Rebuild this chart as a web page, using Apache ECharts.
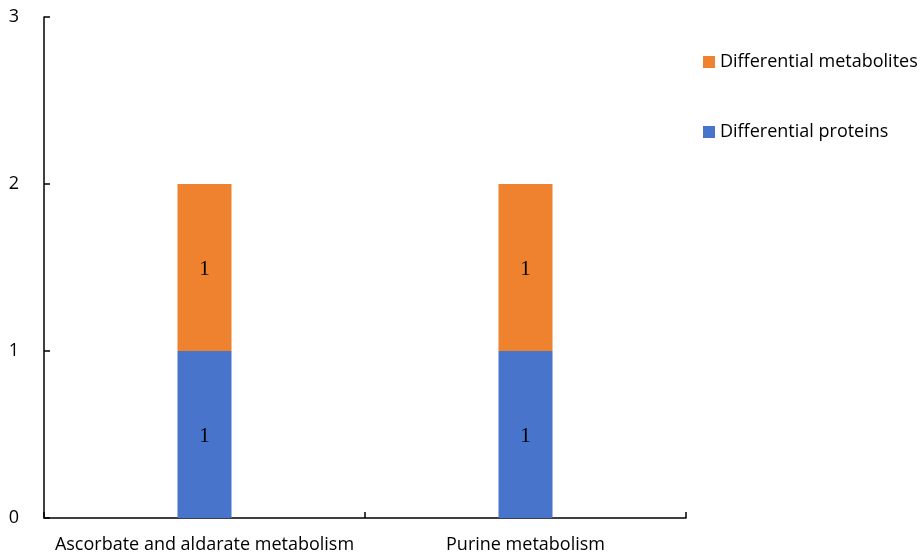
<!DOCTYPE html>
<html>
<head>
<meta charset="utf-8">
<script src="https://cdn.jsdelivr.net/npm/echarts@6/dist/echarts.min.js"></script>
<style>
  html, body { margin: 0; padding: 0; background: #fff; }
  #chart { width: 924px; height: 559px; }
</style>
</head>
<body>
<div id="chart"></div>
<script>
// Pathways and the number of differential features in each
const categories = ['Ascorbate and aldarate metabolism', 'Purine metabolism'];
const proteins = [1, 1];
const metabolites = [1, 1];
const yTicks = [0, 1, 2, 3];

const chart = echarts.init(document.getElementById('chart'));
const font = '"Open Sans", "Liberation Sans", sans-serif';

const barLabel = {
  show: true,
  position: 'inside',
  offset: [0, 2],
  color: '#000',
  fontFamily: '"Liberation Serif", "DejaVu Serif", serif',
  fontSize: 21
};

chart.setOption({
  animation: false,
  backgroundColor: '#fff',
  grid: { left: 44, right: 238, top: 17, bottom: 41 },
  legend: {
    orient: 'vertical',
    left: 703,
    top: 53,
    padding: 0,
    itemWidth: 12,
    itemHeight: 12,
    itemGap: 52,
    icon: 'rect',
    textStyle: { fontFamily: font, fontSize: 18, color: '#000' },
    data: ['Differential metabolites', 'Differential proteins']
  },
  xAxis: {
    type: 'category',
    data: categories,
    axisLine: { lineStyle: { color: '#000', width: 1.5 } },
    axisTick: { show: true, inside: true, length: 6, lineStyle: { color: '#000', width: 1.5 } },
    axisLabel: { interval: 0, fontFamily: font, fontSize: 18, color: '#000', margin: 18 }
  },
  yAxis: {
    type: 'value',
    min: yTicks[0],
    max: yTicks[yTicks.length - 1],
    interval: 1,
    splitLine: { show: false },
    axisLine: { show: true, lineStyle: { color: '#000', width: 1.5 } },
    axisTick: { show: true, inside: true, length: 6, lineStyle: { color: '#000', width: 1.5 } },
    axisLabel: { fontFamily: font, fontSize: 18, color: '#000', margin: 25 }
  },
  series: [
    {
      name: 'Differential proteins',
      type: 'bar',
      stack: 'total',
      barWidth: 54,
      data: proteins,
      itemStyle: { color: '#4874CB' },
      label: barLabel
    },
    {
      name: 'Differential metabolites',
      type: 'bar',
      stack: 'total',
      barWidth: 54,
      data: metabolites,
      itemStyle: { color: '#EE822F' },
      label: barLabel
    }
  ]
});
</script>
</body>
</html>
